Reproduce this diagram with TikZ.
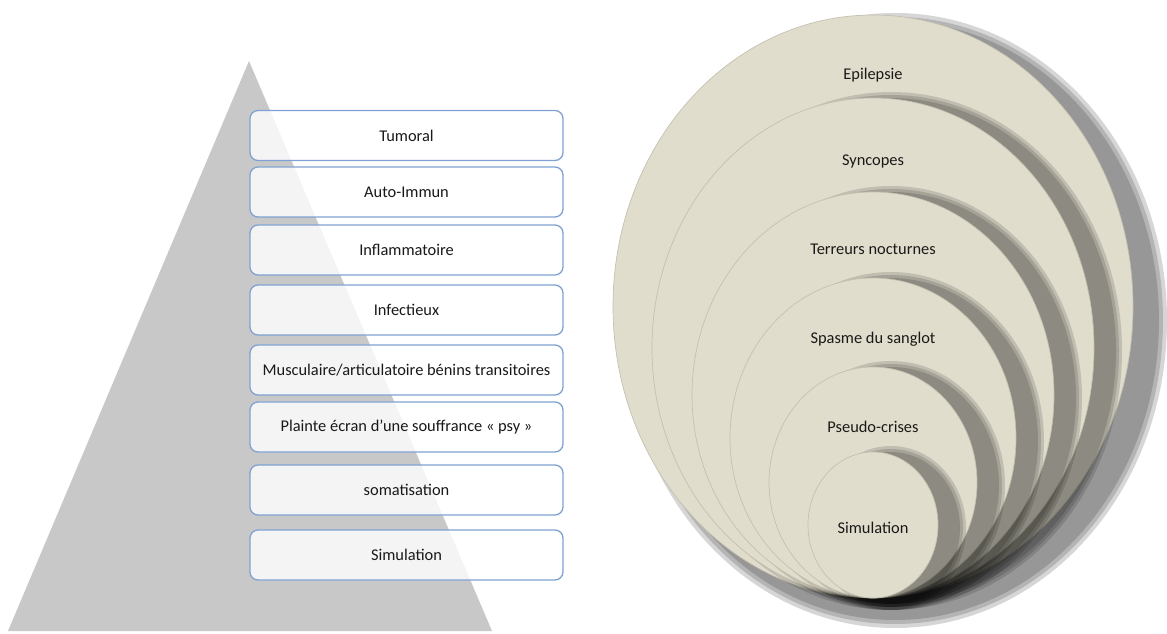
\documentclass[tikz,border=0pt]{standalone}
\usepackage{fontspec}
\setmainfont{Carlito}
\definecolor{tri}{RGB}{200,200,200}
\definecolor{boxblue}{RGB}{128,162,210}
\definecolor{beige}{RGB}{225,221,205}
\definecolor{rimc}{RGB}{196,191,174}
\definecolor{txt}{RGB}{25,25,25}
\tikzset{
  stepbox/.style={draw=boxblue, line width=1pt, rounded corners=6pt, fill=white, fill opacity=0.8, text opacity=1,
    minimum width=234.75pt, minimum height=37.5pt, inner sep=0pt, text=txt, font=\fontsize{12.3}{14}\selectfont},
  lab/.style={text=txt, inner sep=0pt, font=\fontsize{12.3}{14}\selectfont},
}
\begin{document}
\begin{tikzpicture}[x=0.75pt,y=-0.75pt]
\useasboundingbox (0,0) rectangle (1167,634);
% pyramid
\fill[tri] (8,631) -- (492,631) -- (249,61) -- cycle;
% boxes
\node[stepbox] (b1) at (406.5,135.5) {Tumoral};
\node[stepbox] (b2) at (406.5,192) {Auto-Immun};
\node[stepbox] (b3) at (406.5,250) {Inflammatoire};
\node[stepbox] (b4) at (406.5,310) {Infectieux};
\node[stepbox] (b5) at (406.5,370) {Musculaire/articulatoire bénins transitoires};
\node[stepbox] (b6) at (406.5,427) {Plainte écran d’une souffrance «~psy~»};
\node[stepbox] (b7) at (406.5,490) {somatisation};
\node[stepbox] (b8) at (406.5,555) {Simulation};
% outer shadow
\foreach \d in {-4,0,4}
  \fill[black,opacity=0.16] (895,320.5) ellipse [x radius=268+\d, y radius=303.5+\d];
% outer disc
\fill[beige] (873,306.5) ellipse [x radius=260, y radius=291.5];
\draw[rimc,line width=0.5] (873,306.5) ellipse [x radius=260, y radius=291.5];
% nested discs
\foreach \rx/\ry/\cy in {221/250/348, 181/203/395, 143/160/438, 104/115.5/482.5, 65/73/525} {
  \foreach \d in {-3,0,3}
    \fill[black,opacity=0.14] (891,\cy+3) ellipse [x radius=\rx+7+\d, y radius=\ry+6+\d];
  \fill[beige] (873,\cy) ellipse [x radius=\rx, y radius=\ry];
  \draw[rimc,line width=0.5] (873,\cy) ellipse [x radius=\rx, y radius=\ry];
}
% labels
\node[lab] (c1) at (873,75) {Epilepsie};
\node[lab] (c2) at (873,162) {Syncopes};
\node[lab] (c3) at (873,249) {Terreurs nocturnes};
\node[lab] (c4) at (873,339) {Spasme du sanglot};
\node[lab] (c5) at (873,427) {Pseudo-crises};
\node[lab] (c6) at (873,528) {Simulation};
\end{tikzpicture}
\end{document}
